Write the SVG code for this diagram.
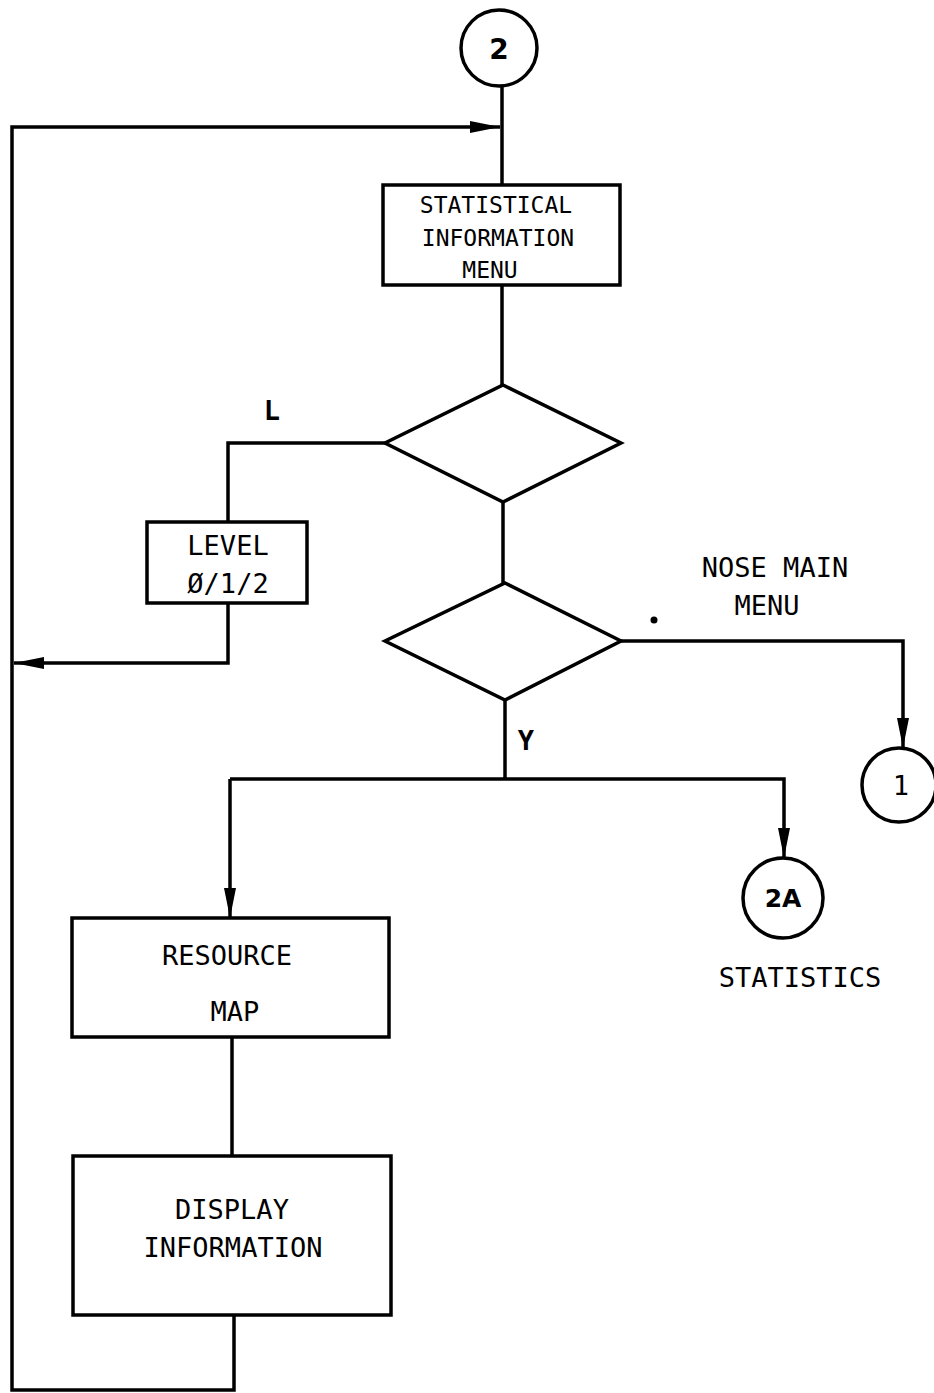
<svg xmlns="http://www.w3.org/2000/svg" width="934" height="1393" viewBox="0 0 934 1393">
  <style>
    .shape { fill: #fff; stroke: #000; stroke-width: 3.5; }
    .wire { fill: none; stroke: #000; stroke-width: 3.5; }
    .lbl { font-family: "DejaVu Sans Mono", "Liberation Mono", monospace; font-size: 27px; fill: #000; text-anchor: middle; }
    .sm { font-size: 23px; }
    .bold { font-weight: bold; }
    .num { font-family: "DejaVu Sans", "Liberation Sans", sans-serif; font-weight: bold; font-size: 28px; fill: #000; text-anchor: middle; }
  </style>
  <defs>
    <marker id="arrow" viewBox="0 0 30 12" refX="30" refY="6" markerWidth="30" markerHeight="12" markerUnits="userSpaceOnUse" orient="auto">
      <path d="M0,0 L30,6 L0,12 z" fill="#000"/>
    </marker>
  </defs>

  <!-- connectors -->
  <g id="connectors">
    <path class="wire" d="M502,86 V185"/>
    <path class="wire" d="M234,1315 V1390 H12 V127 H500" marker-end="url(#arrow)"/>
    <path class="wire" d="M502,285 V385"/>
    <path class="wire" d="M385,443 H228 V522"/>
    <path class="wire" d="M228,603 V663 H14" marker-end="url(#arrow)"/>
    <path class="wire" d="M503,502 V583"/>
    <path class="wire" d="M621,641 H903 V748" marker-end="url(#arrow)"/>
    <path class="wire" d="M505,700 V779"/>
    <path class="wire" d="M230,779 H784 V858" marker-end="url(#arrow)"/>
    <path class="wire" d="M230,779 V918" marker-end="url(#arrow)"/>
    <path class="wire" d="M232,1037 V1156"/>
    <circle cx="654" cy="620" r="3.5" fill="#000"/>
    <text class="lbl bold" x="272" y="420">L</text>
    <text class="lbl bold" x="526" y="750">Y</text>
  </g>

  <g id="connector-2">
    <circle class="shape" cx="499" cy="48" r="38"/>
    <text class="num" x="499" y="59">2</text>
  </g>

  <g id="stat-menu">
    <rect class="shape" x="383" y="185" width="237" height="100"/>
    <text class="lbl sm" x="496" y="213">STATISTICAL</text>
    <text class="lbl sm" x="498" y="246">INFORMATION</text>
    <text class="lbl sm" x="490" y="278">MENU</text>
  </g>

  <g id="decision-1">
    <polygon class="shape" points="503,385 621,443 503,502 385,443"/>
  </g>

  <g id="level">
    <rect class="shape" x="147" y="522" width="160" height="81"/>
    <text class="lbl" x="228" y="555">LEVEL</text>
    <text class="lbl" x="228" y="593">Ø/1/2</text>
  </g>

  <g id="decision-2">
    <polygon class="shape" points="505,583 621,641 505,700 385,641"/>
  </g>

  <g id="nose-main-menu">
    <text class="lbl" x="775" y="577">NOSE MAIN</text>
    <text class="lbl" x="767" y="615">MENU</text>
  </g>

  <g id="connector-1">
    <circle class="shape" cx="899" cy="785" r="37"/>
    <text class="lbl" x="901" y="795">1</text>
  </g>

  <g id="connector-2a">
    <circle class="shape" cx="783" cy="898" r="40"/>
    <text class="num" x="783" y="907" style="font-size:25px">2A</text>
    <text class="lbl" x="800" y="987">STATISTICS</text>
  </g>

  <g id="resource-map">
    <rect class="shape" x="72" y="918" width="317" height="119"/>
    <text class="lbl" x="227" y="965">RESOURCE</text>
    <text class="lbl" x="235" y="1021">MAP</text>
  </g>

  <g id="display-info">
    <rect class="shape" x="73" y="1156" width="318" height="159"/>
    <text class="lbl" x="232" y="1219">DISPLAY</text>
    <text class="lbl" x="233" y="1257">INFORMATION</text>
  </g>
</svg>
